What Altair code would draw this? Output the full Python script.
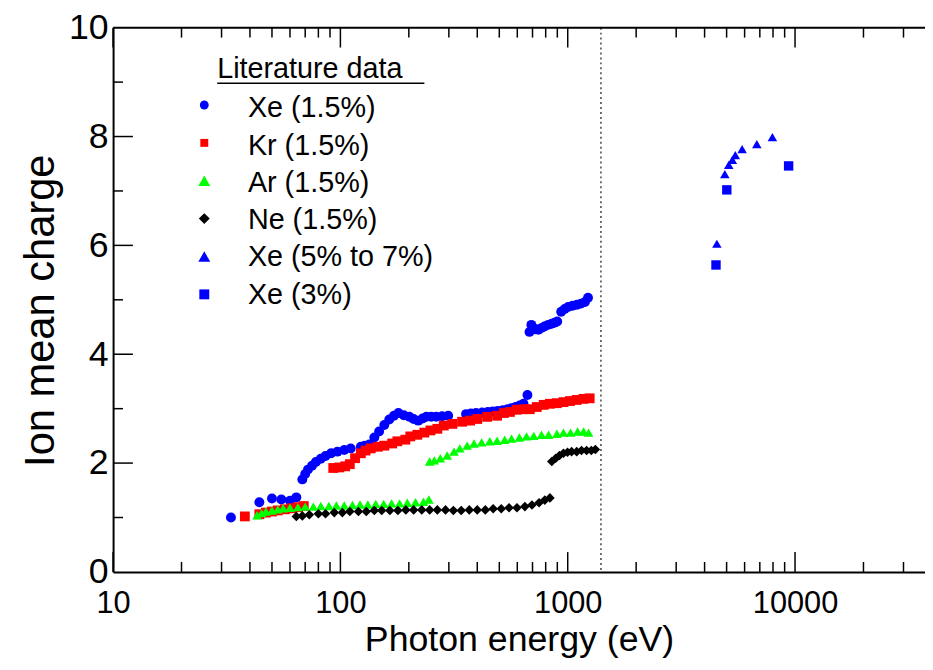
import altair as alt
import pandas as pd

# ---------------- data ----------------
series_names = ["Xe (1.5%)", "Kr (1.5%)", "Ar (1.5%)", "Ne (1.5%)", "Xe (5% to 7%)", "Xe (3%)"]
series_colors = ["#0000ff", "#ff0000", "#00ff00", "#000000", "#0000ff", "#0000ff"]
series_shapes = ["circle", "square", "triangle-up", "diamond", "triangle-up", "square"]
series_sizes = [100, 90, 120, 120, 190, 130]
legend_sizes = [80, 64, 144, 121, 144, 100]

xe15_E = [33, 44, 50, 55, 60, 64,
          68, 70, 72, 75, 78, 82, 86, 91, 97, 104, 111,
          123, 128, 134, 141, 148, 156, 164, 172, 180, 190, 201, 210, 220, 230, 239, 251, 264, 280, 298,
          357, 375, 395, 420, 445, 468, 492, 518, 544, 566, 590, 614, 639, 665,
          679, 692, 705, 720, 743, 765, 790, 821, 850, 875, 899, 936, 970, 1004, 1050, 1099, 1145, 1191, 1228]
xe15_Q = [1.00, 1.28, 1.35, 1.33, 1.31, 1.37,
          1.70, 1.80, 1.88, 1.95, 2.02, 2.08, 2.13, 2.18, 2.21, 2.24, 2.27,
          2.30, 2.32, 2.34, 2.47, 2.58, 2.70, 2.80, 2.87, 2.92, 2.88, 2.85, 2.81, 2.78, 2.82, 2.85, 2.85, 2.85, 2.86, 2.87,
          2.90, 2.91, 2.92, 2.93, 2.94, 2.95, 2.96, 2.97, 2.99, 3.01, 3.03, 3.06, 3.09, 3.25,
          4.41, 4.54, 4.48, 4.46, 4.45, 4.48, 4.51, 4.54, 4.56, 4.58, 4.60, 4.78, 4.83, 4.87, 4.89, 4.91, 4.93, 4.96, 5.04]

kr_E = [38, 44, 47, 50, 53, 57, 61, 65, 69,
        93, 99, 105, 110, 116, 123, 129, 136, 146, 156, 169, 178, 193, 203, 218, 234, 249, 267, 285, 311,
        343, 372, 400, 442, 489, 524, 557, 596, 640, 681, 731, 784, 835, 896, 958, 1023, 1095, 1174, 1249]
kr_Q = [1.02, 1.06, 1.09, 1.11, 1.13, 1.15, 1.17, 1.19, 1.21,
        1.91, 1.92, 1.94, 1.98, 2.09, 2.18, 2.23, 2.27, 2.30, 2.32, 2.36, 2.40, 2.43, 2.49, 2.52, 2.56, 2.60, 2.63, 2.69, 2.72,
        2.76, 2.78, 2.81, 2.85, 2.87, 2.92, 2.94, 2.98, 2.99, 2.99, 3.03, 3.07, 3.09, 3.10, 3.12, 3.14, 3.16, 3.18, 3.19]

ar_E = [43, 45, 47, 50, 53, 56, 60, 65, 70, 76, 82, 89, 96, 104, 113, 122, 132, 143, 155, 168, 182, 197, 214, 232, 245,
        247, 259, 275, 295, 316, 335, 361, 387, 418, 454, 489, 528, 566, 613, 659, 709, 767, 824, 896, 958, 1029, 1105, 1174, 1235]
ar_Q = [1.04, 1.08, 1.11, 1.13, 1.15, 1.17, 1.18, 1.19, 1.20, 1.20, 1.21, 1.21, 1.22, 1.22, 1.23, 1.24, 1.24, 1.25, 1.25,
        1.26, 1.26, 1.27, 1.28, 1.29, 1.33,
        2.03, 2.05, 2.09, 2.14, 2.21, 2.27, 2.32, 2.36, 2.38, 2.40, 2.41, 2.43, 2.45, 2.47, 2.49, 2.50, 2.52, 2.52, 2.54,
        2.56, 2.56, 2.58, 2.58, 2.56]

ne_E = [64, 68, 73, 80, 86, 94, 102, 110, 120, 130, 141, 152, 165, 179, 194, 210, 228, 247, 267, 290, 314, 340, 369,
        400, 434, 470, 510, 552, 598, 648, 696, 748, 793, 835,
        851, 886, 920, 958, 998, 1040, 1095, 1150, 1211, 1270, 1323]
ne_Q = [1.02, 1.03, 1.05, 1.07, 1.07, 1.09, 1.09, 1.11, 1.11, 1.11, 1.13, 1.13, 1.13, 1.13, 1.14, 1.14, 1.14, 1.14,
        1.14, 1.14, 1.13, 1.13, 1.14, 1.14, 1.14, 1.16, 1.16, 1.18, 1.18, 1.20, 1.23, 1.27, 1.32, 1.36,
        2.03, 2.09, 2.14, 2.18, 2.20, 2.21, 2.21, 2.23, 2.23, 2.23, 2.25]

xe57_E = [4530, 4910, 5110, 5300, 5460, 5850, 6790, 7950]
xe57_Q = [6.03, 7.31, 7.48, 7.57, 7.66, 7.77, 7.86, 7.99]

xe3_E = [4490, 5010, 9370]
xe3_Q = [5.64, 7.02, 7.46]

threshold_E = [1400]

x_label_values = [10, 100, 1000, 10000]
x_major_ticks = [10, 100, 1000, 10000]
x_minor_ticks = [m * d for d in (10, 100, 1000, 10000) for m in range(2, 10) if m * d < 37000]
y_label_values = [0, 2, 4, 6, 8, 10]
y_major_ticks = [2, 4, 6, 8]
y_minor_ticks = [1, 3, 5, 7, 9]

legend_title = "Literature data"

# ---------------- build tables ----------------
rows = []
for name, E, Q in zip(series_names,
                      [xe15_E, kr_E, ar_E, ne_E, xe57_E, xe3_E],
                      [xe15_Q, kr_Q, ar_Q, ne_Q, xe57_Q, xe3_Q]):
    for e, q in zip(E, Q):
        rows.append({"series": name, "E": e, "q": q})
df = pd.DataFrame(rows)

leg = pd.DataFrame({"series": series_names, "color": series_colors, "shape": series_shapes,
                    "sz": legend_sizes, "i": list(range(len(series_names)))})

W, H = 819, 549
FONT = "Liberation Sans, Arial, Helvetica, sans-serif"

xscale = alt.Scale(type="log", domain=[10, 37300], nice=False)
yscale = alt.Scale(domain=[0, 10], nice=False, zero=False)

xaxis = alt.Axis(values=x_label_values, format="d", ticks=False, tickSize=0, grid=False,
                 labelFont=FONT, labelFontSize=31, labelPadding=17, labelFlush=False,
                 labelColor="black", domainColor="black", domainWidth=2,
                 title="Photon energy (eV)", titleFont=FONT, titleFontSize=36,
                 titleFontWeight="normal", titlePadding=4, titleColor="black")
yaxis = alt.Axis(values=y_label_values, format="d", ticks=False, tickSize=0, grid=False,
                 labelFont=FONT, labelFontSize=36, labelPadding=5, labelFlush=False,
                 labelColor="black", domainColor="black", domainWidth=2,
                 title="Ion mean charge", titleFont=FONT, titleFontSize=42,
                 titleFontWeight="normal", titlePadding=6, titleY=285, titleColor="black")

X = lambda: alt.X("E:Q", scale=xscale, axis=xaxis)
Y = lambda: alt.Y("q:Q", scale=yscale, axis=yaxis)

points = alt.Chart(df).mark_point(filled=True, opacity=1, strokeWidth=0).encode(
    x=X(), y=Y(),
    color=alt.Color("series:N", scale=alt.Scale(domain=series_names, range=series_colors), legend=None),
    shape=alt.Shape("series:N", scale=alt.Scale(domain=series_names, range=series_shapes), legend=None),
    size=alt.Size("series:N", scale=alt.Scale(domain=series_names, range=series_sizes), legend=None),
)


def xticks(values, length, top):
    if top:
        yy, yy2 = alt.value(0), alt.value(length)
    else:
        yy, yy2 = alt.value(H), alt.value(H - length)
    return alt.Chart(pd.DataFrame({"E": values})).mark_rule(color="black", strokeWidth=1.5).encode(
        x=X(), y=yy, y2=yy2)


def yticks(values, length):
    return alt.Chart(pd.DataFrame({"q": values})).mark_rule(color="black", strokeWidth=1.5).encode(
        y=Y(), x=alt.value(0), x2=alt.value(length))


top_frame = alt.Chart(pd.DataFrame({"a": [0]})).mark_rule(color="black", strokeWidth=2).encode(
    x=alt.value(0), x2=alt.value(W), y=alt.value(0))

threshold = alt.Chart(pd.DataFrame({"E": threshold_E})).mark_rule(
    color="#444444", strokeWidth=1.5, strokeDash=[2, 3]).encode(
    x=X(), y=alt.value(0), y2=alt.value(H))

leg_base = alt.Chart(leg).transform_calculate(
    my="78 + 38.2 * datum.i", ty="81.5 + 37.6 * datum.i")
leg_marks = leg_base.mark_point(filled=True, opacity=1, strokeWidth=0).encode(
    x=alt.value(92), y=alt.Y("my:Q", scale=None),
    color=alt.Color("color:N", scale=None), shape=alt.Shape("shape:N", scale=None),
    size=alt.Size("sz:Q", scale=None))
leg_text = leg_base.mark_text(align="left", baseline="middle", font=FONT, fontSize=29, color="black").encode(
    x=alt.value(136), y=alt.Y("ty:Q", scale=None), text="series:N")
leg_title = alt.Chart(pd.DataFrame({"t": [legend_title]})).mark_text(
    align="left", baseline="alphabetic", font=FONT, fontSize=29, color="black").encode(
    x=alt.value(105), y=alt.value(51), text="t:N")
leg_line = alt.Chart(pd.DataFrame({"a": [0]})).mark_rule(color="black", strokeWidth=1.5).encode(
    x=alt.value(105), x2=alt.value(314), y=alt.value(56))

chart = alt.layer(
    points,
    threshold,
    xticks(x_major_ticks, 20, False), xticks(x_minor_ticks, 10, False),
    xticks(x_major_ticks, 20, True), xticks(x_minor_ticks, 10, True),
    yticks(y_major_ticks, 20), yticks(y_minor_ticks, 10),
    top_frame,
    leg_title, leg_line, leg_marks, leg_text,
).properties(
    width=W, height=H,
    autosize=alt.AutoSizeParams(type="none"),
    padding={"left": 106, "top": 17, "right": 0, "bottom": 88},
    background="white",
).configure_view(stroke=None)

chart.save("out.html", embed_options={"renderer": "svg", "actions": False})
